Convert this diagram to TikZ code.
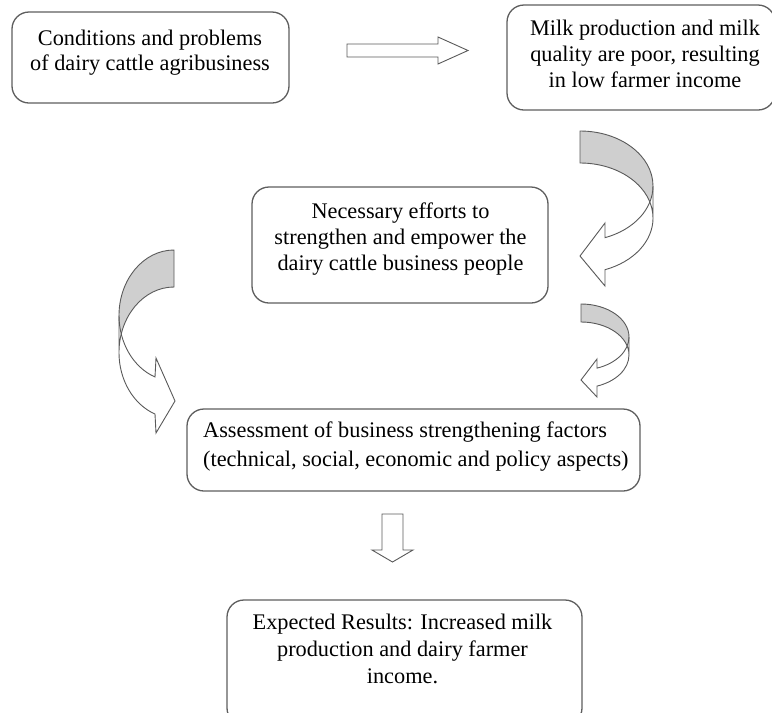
\documentclass[tikz,border=0pt]{standalone}
\usepackage{fontspec}
\setmainfont{Liberation Serif}
\definecolor{boxgray}{HTML}{5E5E5E}
\definecolor{arrowgray}{HTML}{5A5A5A}
\definecolor{backgray}{HTML}{CFCFCF}
\begin{document}
\begin{tikzpicture}[x=1pt,y=-1pt,
  box/.style={draw=boxgray, line width=1.3pt, rounded corners=17pt, fill=white,
    inner sep=0pt, minimum width=#1},
  box/.default=100pt,
  label/.style={inner sep=0pt, align=center, text=black},
  blockarrow/.style={draw=arrowgray, line width=0.9pt, line join=miter},
]
\useasboundingbox (0,0) rectangle (772,713);

% ---- boxes ----
\node[box=277pt, minimum height=91pt]  (cond)   at (150.5,57.5)  {};
\node[box=268pt, minimum height=105pt] (milk)   at (641,57.5)    {};
\node[box=296pt, minimum height=116pt] (effort) at (400,245)     {};
\node[box=453pt, minimum height=82pt]  (assess) at (413.5,450)   {};
\node[box=355pt, minimum height=125pt] (result) at (404.5,662.5) {};

% ---- texts ----
\node[label, font=\fontsize{22.3}{25.5}\selectfont] (tcond) at (150,52.6)
  {Conditions and problems\\of dairy cattle agribusiness};
\node[label, font=\fontsize{22.3}{26.3}\selectfont] (tmilk) at (645,53.9)
  {Milk production and milk\\quality are poor, resulting\\in low farmer income};
\node[label, font=\fontsize{22.3}{26.2}\selectfont] (teffort) at (400.5,238.8)
  {Necessary efforts to\\strengthen and empower the\\dairy cattle business people};
\node[label, align=left, anchor=west, font=\fontsize{22.3}{29.4}\selectfont] (tassess) at (203,446.3)
  {Assessment of business strengthening factors\\(technical, social, economic and policy aspects)};
\node[label, font=\fontsize{22.3}{27}\selectfont] (tresult) at (402.5,649)
  {Expected Results: Increased milk\\production and dairy farmer\\income.};

% ---- straight block arrows ----
\draw[blockarrow, fill=white]
  (347,44) -- (438,44) -- (438,37) -- (468,50.5) -- (438,64) -- (438,57) -- (347,57) -- cycle;
\draw[blockarrow, fill=white]
  (382,514) -- (403,514) -- (403,550) -- (413,550) -- (392.5,562) -- (372,550) -- (382,550) -- cycle;

% ---- curved arrow from the milk box to the efforts box ----
\fill[backgray] (580,131) arc[start angle=-90, end angle=0, x radius=73, y radius=55]
  -- (653,218) arc[start angle=0, end angle=-90, x radius=73, y radius=55] -- cycle;
\fill[white] (653,186) arc[start angle=0, end angle=70, x radius=73, y radius=55]
  -- (605,223) -- (580,256) -- (605,286) -- (605,269.7)
  arc[start angle=70, end angle=0, x radius=73, y radius=55] -- cycle;
\draw[blockarrow] (580,131) arc[start angle=-90, end angle=0, x radius=73, y radius=55]
  -- (653,218) arc[start angle=0, end angle=-90, x radius=73, y radius=55] -- cycle;
\draw[blockarrow] (653,186) arc[start angle=0, end angle=70, x radius=73, y radius=55]
  -- (605,223) -- (580,256) -- (605,286) -- (605,269.7)
  arc[start angle=70, end angle=0, x radius=73, y radius=55];

% ---- curved arrow from the efforts box to the assessment box (right) ----
\fill[backgray] (581,304) arc[start angle=-90, end angle=0, x radius=48, y radius=33]
  -- (629,355) arc[start angle=0, end angle=-90, x radius=48, y radius=33] -- cycle;
\fill[white] (629,337) arc[start angle=0, end angle=70.5, x radius=48, y radius=33]
  -- (597,359) -- (581,380) -- (597,397) -- (597,386.1)
  arc[start angle=70.5, end angle=0, x radius=48, y radius=33] -- cycle;
\draw[blockarrow] (581,304) arc[start angle=-90, end angle=0, x radius=48, y radius=33]
  -- (629,355) arc[start angle=0, end angle=-90, x radius=48, y radius=33] -- cycle;
\draw[blockarrow] (629,337) arc[start angle=0, end angle=70.5, x radius=48, y radius=33]
  -- (597,359) -- (581,380) -- (597,397) -- (597,386.1)
  arc[start angle=70.5, end angle=0, x radius=48, y radius=33];

% ---- curved arrow on the left, pointing to the assessment box ----
\fill[backgray] (174,250) arc[start angle=-90, end angle=-180, x radius=55, y radius=65.5]
  -- (119,352.5) arc[start angle=180, end angle=270, x radius=55, y radius=65.5] -- cycle;
\fill[white] (119,315.5) arc[start angle=180, end angle=110.2, x radius=55, y radius=65.5]
  -- (156,358) -- (175,401) -- (156,433) -- (155,414)
  arc[start angle=110.2, end angle=180, x radius=55, y radius=65.5] -- cycle;
\draw[blockarrow] (174,250) arc[start angle=-90, end angle=-180, x radius=55, y radius=65.5]
  -- (119,352.5) arc[start angle=180, end angle=270, x radius=55, y radius=65.5] -- cycle;
\draw[blockarrow] (119,315.5) arc[start angle=180, end angle=110.2, x radius=55, y radius=65.5]
  -- (156,358) -- (175,401) -- (156,433) -- (155,414)
  arc[start angle=110.2, end angle=180, x radius=55, y radius=65.5];
\end{tikzpicture}
\end{document}
